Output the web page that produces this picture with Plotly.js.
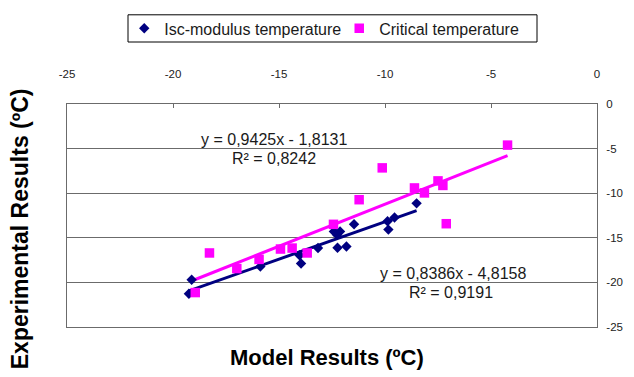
<!DOCTYPE html>
<html>
<head>
<meta charset="utf-8">
<script src="https://cdn.plot.ly/plotly-3.0.1.min.js"></script>
<style>
  html, body { margin: 0; padding: 0; background: #ffffff; }
  #chart { width: 634px; height: 377px; }
</style>
</head>
<body>
<div id="chart"></div>
<script>
// Isc-modulus temperature: model vs experimental (ºC)
const iscModel = [-8.51, -9.55, -9.88, -9.84, -11.46, -12.41, -12.12, -12.26, -12.24, -11.82, -13.16, -14.03, -13.96, -15.88, -19.12, -19.25];
const iscExp   = [-11.14, -12.72, -13.15, -14.08, -13.48, -14.29, -14.29, -14.67, -16.12, -15.98, -16.14, -16.96, -17.88, -18.21, -19.71, -21.28];

// Critical temperature: model vs experimental (ºC)
const critModel = [-4.22, -10.13, -8.61, -8.14, -7.50, -7.27, -11.22, -7.11, -12.43, -14.93, -14.38, -13.67, -15.94, -16.99, -18.28, -18.95];
const critExp   = [-4.61, -7.16, -9.41, -9.97, -8.62, -9.13, -10.73, -13.42, -13.49, -16.26, -16.15, -16.70, -17.42, -18.45, -16.70, -21.14];

// Linear trendline coefficients and R² for each series
const iscSlope = 0.8386, iscIntercept = -4.8158, iscR2 = 0.9191;
const critSlope = 0.9425, critIntercept = -1.8131, critR2 = 0.8242;

// Shared axis ticks (plain hyphen minus, as in the original workbook)
const tickValues = [-25, -20, -15, -10, -5, 0];
const tickLabels = ['-25', '-20', '-15', '-10', '-5', '0'];

const NAVY = '#000080';
const MAGENTA = '#FF00FF';
const GRID = '#6b6b6b';
const FONT = 'Liberation Sans, Arial, sans-serif';

function fitLine(xs, slope, intercept) {
  const lo = Math.min(...xs), hi = Math.max(...xs);
  return { x: [lo, hi], y: [slope * lo + intercept, slope * hi + intercept] };
}
const comma = v => Math.abs(v).toFixed(4).replace('.', ',');
const eqText = (m, b) => 'y = ' + comma(m) + 'x ' + (b < 0 ? '- ' : '+ ') + comma(b);

const iscFit = fitLine(iscModel, iscSlope, iscIntercept);
const critFit = fitLine(critModel, critSlope, critIntercept);

const traces = [
  {
    x: critFit.x, y: critFit.y, type: 'scatter', mode: 'lines',
    line: { color: MAGENTA, width: 3 }, showlegend: false, hoverinfo: 'skip'
  },
  {
    x: iscFit.x, y: iscFit.y, type: 'scatter', mode: 'lines',
    line: { color: NAVY, width: 3 }, showlegend: false, hoverinfo: 'skip'
  },
  {
    name: 'Isc-modulus temperature',
    x: iscModel, y: iscExp, type: 'scatter', mode: 'markers',
    marker: { symbol: 'diamond', size: 8, color: NAVY }
  },
  {
    name: 'Critical temperature',
    x: critModel, y: critExp, type: 'scatter', mode: 'markers',
    marker: { symbol: 'square', size: 9.5, color: MAGENTA }
  }
];

const eqFont = { family: FONT, size: 16, color: '#1a1a1a' };

const layout = {
  width: 634, height: 377,
  margin: { l: 67, r: 37, t: 97, b: 50 },
  paper_bgcolor: '#ffffff', plot_bgcolor: '#ffffff',
  font: { family: FONT, size: 11, color: '#222222' },
  showlegend: true,
  legend: {
    orientation: 'h', x: 0.108, xanchor: 'left', y: 1.339, yanchor: 'middle',
    bgcolor: 'rgba(0,0,0,0)', borderwidth: 0,
    font: { family: FONT, size: 16, color: '#1a1a1a' },
    entrywidth: 170, itemwidth: 30
  },
  xaxis: {
    side: 'top', range: [-25, 0], tickvals: tickValues, ticktext: tickLabels,
    showgrid: false, zeroline: false,
    showline: true, mirror: true, linecolor: GRID, linewidth: 1,
    ticks: 'inside', ticklen: 4, tickcolor: GRID, ticklabelstandoff: 20,
    tickfont: { family: FONT, size: 11.5, color: '#222222' }
  },
  yaxis: {
    side: 'right', range: [-25, 0], tickvals: tickValues, ticktext: tickLabels,
    showgrid: true, gridcolor: GRID, gridwidth: 1, zeroline: false,
    showline: true, mirror: true, linecolor: GRID, linewidth: 1,
    ticks: '', ticklabelstandoff: 6,
    tickfont: { family: FONT, size: 11.5, color: '#222222' }
  },
  shapes: [
    { type: 'rect', xref: 'paper', yref: 'paper', x0: 0.1151, x1: 0.8868, y0: 1.278, y1: 1.4,
      line: { color: '#000000', width: 1 }, fillcolor: 'rgba(0,0,0,0)', layer: 'below' }
  ],
  annotations: [
    { text: eqText(critSlope, critIntercept), x: -15.24, y: -3.96, xref: 'x', yref: 'y',
      showarrow: false, font: eqFont },
    { text: 'R² = ' + comma(critR2), x: -15.24, y: -6.14, xref: 'x', yref: 'y',
      showarrow: false, font: eqFont },
    { text: eqText(iscSlope, iscIntercept), x: -6.79, y: -18.96, xref: 'x', yref: 'y',
      showarrow: false, font: eqFont },
    { text: 'R² = ' + comma(iscR2), x: -6.89, y: -21.14, xref: 'x', yref: 'y',
      showarrow: false, font: eqFont },
    { text: '<b>Model Results (ºC)</b>', xref: 'paper', yref: 'paper', x: 0.49, y: -0.135,
      xanchor: 'center', yanchor: 'middle', showarrow: false,
      font: { family: FONT, size: 22, color: '#000000' } },
    { text: '<b>Experimental Results (ºC)</b>', xref: 'paper', yref: 'paper', x: -0.088, y: 0.44,
      xanchor: 'center', yanchor: 'middle', textangle: -90, showarrow: false,
      font: { family: FONT, size: 23, color: '#000000' } }
  ]
};

Plotly.newPlot('chart', traces, layout, { displayModeBar: false, staticPlot: true });
</script>
</body>
</html>
